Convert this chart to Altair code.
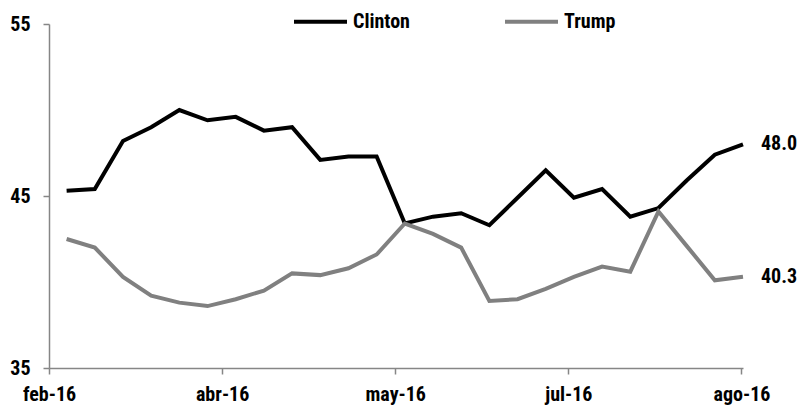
import altair as alt
import pandas as pd

# Weekly poll averages
DATES = ["2016-02-28", "2016-03-06", "2016-03-13", "2016-03-20", "2016-03-27",
         "2016-04-03", "2016-04-10", "2016-04-17", "2016-04-24", "2016-05-01",
         "2016-05-08", "2016-05-15", "2016-05-22", "2016-05-29", "2016-06-05",
         "2016-06-12", "2016-06-19", "2016-06-26", "2016-07-03", "2016-07-10",
         "2016-07-17", "2016-07-24", "2016-07-31", "2016-08-07", "2016-08-14"]
CLINTON = [45.3, 45.4, 48.2, 49.0, 50.0, 49.4, 49.6, 48.8, 49.0, 47.1,
           47.3, 47.3, 43.4, 43.8, 44.0, 43.3, 44.9, 46.5, 44.9, 45.4,
           43.8, 44.3, 45.9, 47.4, 48.0]
TRUMP = [42.5, 42.0, 40.3, 39.2, 38.8, 38.6, 39.0, 39.5, 40.5, 40.4,
         40.8, 41.6, 43.4, 42.8, 42.0, 38.9, 39.0, 39.6, 40.3, 40.9,
         40.6, 44.1, 42.1, 40.1, 40.3]
SERIES = ["Clinton", "Trump"]
COLORS = ["#000000", "#808080"]
MONTHS_ES = ["ene", "feb", "mar", "abr", "may", "jun",
             "jul", "ago", "sep", "oct", "nov", "dic"]
# axis ticks (month, day, hour) spaced 43 days apart
TICKS = [(2, 23, 15), (4, 6, 15), (5, 19, 15), (7, 1, 15), (8, 13, 15)]
X_DOMAIN = [(2, 23, 15), (8, 14, 0)]
Y_TICKS = [35, 45, 55]

FONT = "Liberation Sans Narrow, Arial Narrow, Roboto Condensed, sans-serif"

rows = []
for name, vals in zip(SERIES, [CLINTON, TRUMP]):
    for d, v in zip(DATES, vals):
        rows.append({"date": d, "candidate": name, "value": v})
df = pd.DataFrame(rows)
last = df[df["date"] == DATES[-1]]


def dt(t):
    return alt.DateTime(year=2016, month=t[0], date=t[1], hours=t[2], utc=True)


months_js = "[" + ",".join("'%s'" % m for m in MONTHS_ES) + "]"
label_expr = months_js + "[utcmonth(datum.value)] + '-' + utcFormat(datum.value, '%y')"

x_enc = alt.X(
    "date:T",
    scale=alt.Scale(type="utc", domain=[dt(X_DOMAIN[0]), dt(X_DOMAIN[1])]),
    axis=alt.Axis(values=[dt(t) for t in TICKS], labelExpr=label_expr,
                  tickSize=6, labelPadding=10, title=None, labelFlush=False,
                  labelOverlap=False),
)
y_enc = alt.Y(
    "value:Q",
    scale=alt.Scale(domain=[35, 55], nice=False, zero=False),
    axis=alt.Axis(values=Y_TICKS, tickSize=6, labelPadding=13, title=None),
)

lines = alt.Chart(df).mark_line(strokeWidth=4, strokeJoin="miter").encode(
    x=x_enc,
    y=y_enc,
    color=alt.Color(
        "candidate:N",
        scale=alt.Scale(domain=SERIES, range=COLORS),
        legend=alt.Legend(
            orient="none", legendX=243, legendY=-31, direction="horizontal",
            title=None, symbolType="stroke", symbolSize=2809,
            symbolStrokeWidth=4, labelFont=FONT, labelFontSize=20,
            labelFontWeight="bold", labelColor="#000000", labelOffset=4,
            columnPadding=87, padding=0,
        ),
    ),
)

labels = alt.Chart(last).mark_text(
    align="left", baseline="middle", dx=18, font=FONT, fontSize=20,
    fontWeight="bold", color="#000000",
).encode(
    x=alt.X("date:T", scale=alt.Scale(type="utc")),
    y="value:Q",
    text=alt.Text("value:Q", format=".1f"),
)

chart = (
    alt.layer(lines, labels)
    .properties(
        width=694, height=344,
        autosize=alt.AutoSizeParams(type="none"),
        padding={"left": 49, "top": 24, "right": 55, "bottom": 40},
        background="white",
    )
    .configure_view(stroke=None)
    .configure_axis(
        grid=False, domainColor="#868686", tickColor="#868686",
        domainWidth=1.5, tickWidth=1.5, labelFont=FONT, labelFontSize=20,
        labelFontWeight="bold", labelColor="#000000",
    )
)

chart.save("out.html", embed_options={"renderer": "svg", "actions": False})
